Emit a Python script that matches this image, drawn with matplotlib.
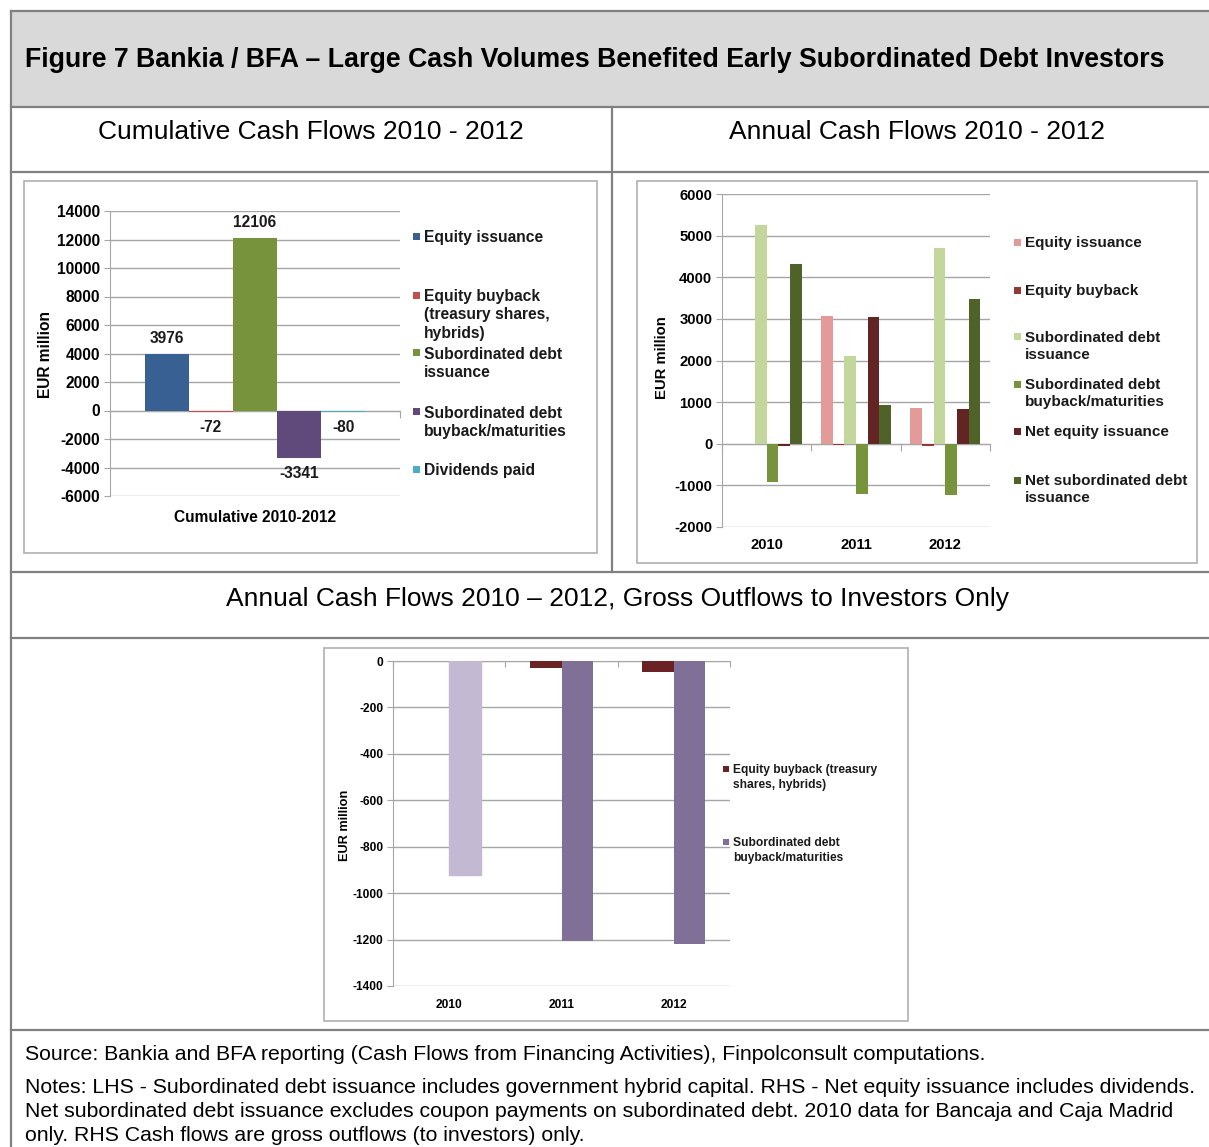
import matplotlib.pyplot as plt
from matplotlib.patches import Rectangle
from matplotlib.lines import Line2D
import numpy as np

# データ
cum_labels = ['Equity issuance', 'Equity buyback\n(treasury shares,\nhybrids)',
              'Subordinated debt\nissuance', 'Subordinated debt\nbuyback/maturities',
              'Dividends paid']
cum_values = [3976, -72, 12106, -3341, -80]
cum_category = 'Cumulative 2010-2012'

years = ['2010', '2011', '2012']
equity_issuance = [0, 3075, 855]
equity_buyback = [0, -31, -48]
sub_issuance = [5250, 2120, 4710]
sub_buyback = [-921, -1206, -1221]
net_equity = [-50, 3050, 830]
net_sub = [4330, 925, 3480]
annual_labels = ['Equity issuance', 'Equity buyback', 'Subordinated debt\nissuance',
                 'Subordinated debt\nbuyback/maturities', 'Net equity issuance',
                 'Net subordinated debt\nissuance']

gross_labels = ['Equity buyback (treasury\nshares, hybrids)', 'Subordinated debt\nbuyback/maturities']

# 色・フォント
cum_colors = ['#386092', '#C0504D', '#77933C', '#604A7B', '#4BACC6']
annual_colors = ['#E39B9A', '#953735', '#C3D69B', '#77933C', '#632523', '#4F6228']
gross_colors = ['#6B2224', '#807098']
gross_2010 = '#C3B9D3'
GRID = '#A6A6A6'
LINE = '#808080'
FONT = 'Liberation Sans'

plt.rcParams['font.family'] = FONT
plt.rcParams['axes.unicode_minus'] = False

W, H = 1209, 1147
fig = plt.figure(figsize=(W / 100, H / 100), dpi=100)

def fx(x): return x / W
def fy(y): return 1 - y / H

def axes_px(x0, y0, x1, y1):
    return fig.add_axes([fx(x0), fy(y1), (x1 - x0) / W, (y1 - y0) / H])

def hline(y, x0=11, x1=W):
    fig.add_artist(Line2D([fx(x0), fx(x1)], [fy(y), fy(y)], color=LINE, lw=1.6))

def vline(x, y0, y1):
    fig.add_artist(Line2D([fx(x), fx(x)], [fy(y0), fy(y1)], color=LINE, lw=1.6))

def box(x0, y0, x1, y1):
    fig.add_artist(Rectangle((fx(x0), fy(y1)), (x1 - x0) / W, (y1 - y0) / H,
                             transform=fig.transFigure, fill=False, ec='#B0B0B0', lw=1.2))

def legend_px(labels, colors, x, ys, size, sq=7):
    # size はピクセル単位
    for lab, col, y in zip(labels, colors, ys):
        fig.add_artist(Rectangle((fx(x), fy(y + sq / 2)), sq / W, sq / H,
                                 transform=fig.transFigure, color=col, lw=0))
        fig.text(fx(x + sq + 4), fy(y - size * 0.4), lab, fontsize=size / 1.389,
                 fontweight='bold', va='top', linespacing=1.3, color='#1A1A1A')

def style_axes(ax, size):
    for s in ['top', 'right', 'bottom']:
        ax.spines[s].set_visible(False)
    ax.spines['left'].set_color(GRID)
    ax.yaxis.grid(True, color=GRID, lw=1)
    ax.set_axisbelow(True)
    ax.tick_params(axis='y', length=4, color=GRID, pad=3)
    ax.tick_params(axis='x', length=0)
    for t in ax.get_xticklabels() + ax.get_yticklabels():
        t.set_fontweight('bold')
        t.set_fontsize(size)

# 表の枠
fig.add_artist(Rectangle((fx(11), fy(107)), (W - 11) / W, 96 / H, transform=fig.transFigure,
                         color='#D9D9D9', lw=0))
hline(11); hline(107); hline(172); hline(572); hline(638); hline(1030)
vline(11, 11, H)
vline(612, 107, 572)

fig.text(fx(25), fy(60), 'Figure 7 Bankia / BFA \u2013 Large Cash Volumes Benefited Early Subordinated Debt Investors',
         fontsize=19.3, fontweight='bold', va='center', ha='left')
fig.text(fx(311), fy(132), 'Cumulative Cash Flows 2010 - 2012', fontsize=19, ha='center', va='center')
fig.text(fx(917), fy(132), 'Annual Cash Flows 2010 - 2012', fontsize=19, ha='center', va='center')
fig.text(fx(617), fy(599), 'Annual Cash Flows 2010 \u2013 2012, Gross Outflows to Investors Only',
         fontsize=19, ha='center', va='center')
fig.text(fx(25), fy(1054), 'Source: Bankia and BFA reporting (Cash Flows from Financing Activities), Finpolconsult computations.',
         fontsize=15.3, va='center')
fig.text(fx(25), fy(1078),
         'Notes: LHS - Subordinated debt issuance includes government hybrid capital. RHS - Net equity issuance includes dividends.\n'
         'Net subordinated debt issuance excludes coupon payments on subordinated debt. 2010 data for Bancaja and Caja Madrid\n'
         'only. RHS Cash flows are gross outflows (to investors) only.',
         fontsize=15.3, va='top', linespacing=1.34)

# 左上: 累積キャッシュフロー
box(24, 181, 597, 553)
ax1 = axes_px(110, 211, 400, 496)
w1 = 0.152
for i, (v, c) in enumerate(zip(cum_values, cum_colors)):
    bars = ax1.bar((i - 2) * w1, v, width=w1, color=c)
    ax1.bar_label(bars, labels=[f'{v}'], padding=6, fontsize=11.2, fontweight='bold', color='#1A1A1A')
ax1.set_xlim(-0.5, 0.5)
ax1.set_ylim(-6000, 14000)
ax1.set_yticks(np.arange(-6000, 14001, 2000))
ax1.set_xticks([0], [cum_category])
style_axes(ax1, 11.2)
ax1.tick_params(axis='x', pad=10)
sec1 = ax1.secondary_xaxis(6000 / 20000)
sec1.set_xticks([-0.5, 0.5], ['', ''])
sec1.spines['bottom'].set_color(GRID)
sec1.tick_params(length=5, color=GRID, direction='out')
fig.text(fx(45), fy(355), 'EUR million', rotation=90, fontsize=11.2, fontweight='bold',
         ha='center', va='center')
legend_px(cum_labels, cum_colors, 413, [236, 295, 353, 412, 469], 15.6)

# 右上: 年次キャッシュフロー
box(637, 181, 1197, 563)
ax2 = axes_px(722, 194, 990, 527)
x = np.arange(len(years))
w2 = 0.131
series = [equity_issuance, equity_buyback, sub_issuance, sub_buyback, net_equity, net_sub]
for i, (vals, c) in enumerate(zip(series, annual_colors)):
    ax2.bar(x + (i - 2.5) * w2, vals, width=w2, color=c)
ax2.set_xlim(-0.5, 2.5)
ax2.set_ylim(-2000, 6000)
ax2.set_yticks(np.arange(-2000, 6001, 1000))
ax2.set_xticks(x, years)
style_axes(ax2, 10.7)
ax2.tick_params(axis='x', pad=8)
sec2 = ax2.secondary_xaxis(2000 / 8000)
sec2.set_xticks([-0.5, 0.5, 1.5, 2.5], ['', '', '', ''])
sec2.spines['bottom'].set_color(GRID)
sec2.tick_params(length=5, color=GRID, direction='out')
fig.text(fx(662), fy(358), 'EUR million', rotation=90, fontsize=10.7, fontweight='bold',
         ha='center', va='center')
legend_px(annual_labels, annual_colors, 1014, [242, 290, 337, 384, 431, 480], 15.2)

# 下: 投資家への流出
box(324, 648, 908, 1021)
ax3 = axes_px(393, 661, 730, 986)
w3 = 0.28
ax3.bar(x - w3 / 2, equity_buyback, width=w3, color=gross_colors[0])
sub_bars = ax3.bar(x + w3 / 2, sub_buyback, width=w3, color=gross_colors[1])
sub_bars[0].set_color(gross_2010)
ax3.set_xlim(-0.5, 2.5)
ax3.set_ylim(-1400, 0)
ax3.set_yticks(np.arange(-1400, 1, 200))
ax3.set_xticks(x, years)
style_axes(ax3, 8.6)
ax3.tick_params(axis='x', pad=9)
sec3 = ax3.secondary_xaxis('top')
sec3.set_xticks([-0.5, 0.5, 1.5, 2.5], ['', '', '', ''])
sec3.spines['top'].set_color(GRID)
sec3.tick_params(length=4, color=GRID, direction='in')
fig.text(fx(345), fy(825), 'EUR million', rotation=90, fontsize=9.2, fontweight='bold',
         ha='center', va='center')
legend_px(gross_labels, gross_colors, 723, [769, 842], 12, sq=6)

plt.savefig('out.png', dpi=100)
